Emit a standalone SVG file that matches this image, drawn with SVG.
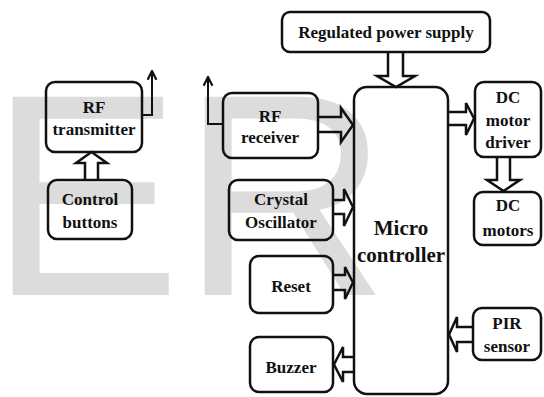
<svg xmlns="http://www.w3.org/2000/svg" width="544" height="397" viewBox="0 0 544 397">
<defs>
<style>
.bx{fill:none;stroke:#111;stroke-width:2.5}
.ar{fill:none;stroke:#111;stroke-width:2.5;stroke-linejoin:miter}
.ant{fill:none;stroke:#111;stroke-width:2}
.t{font-family:'Liberation Serif','DejaVu Serif',serif;font-weight:700;font-size:17px;fill:#111;text-anchor:middle}
.big{font-size:21px}
.wm{font-family:'Liberation Sans',Arial,sans-serif;font-size:288px;fill:#dcdcdc}
</style>
<marker id="ah" viewBox="0 0 10 10" refX="9" refY="5" markerUnits="userSpaceOnUse" markerWidth="11" markerHeight="11" orient="auto">
<path d="M1,1 L9,5 L1,9" fill="none" stroke="#111" stroke-width="2"/>
</marker>
</defs>
<rect width="544" height="397" fill="#fff"/>
<text class="wm" x="-11" y="295">ER</text>

<g id="rf-transmitter">
<rect class="bx" x="46" y="82" width="96" height="70" rx="9"/>
<text class="t" x="94" y="113">RF</text>
<text class="t" x="94" y="135">transmitter</text>
</g>
<g id="control-buttons">
<rect class="bx" x="48" y="180" width="84" height="59" rx="9"/>
<text class="t" x="90" y="205">Control</text>
<text class="t" x="90" y="228">buttons</text>
</g>
<g id="regulated-power-supply">
<rect class="bx" x="282" y="12" width="208" height="40" rx="8"/>
<text class="t" x="386" y="38">Regulated power supply</text>
</g>
<g id="rf-receiver">
<rect class="bx" x="223" y="93" width="95" height="65" rx="9"/>
<text class="t" x="270" y="122">RF</text>
<text class="t" x="270" y="143">receiver</text>
</g>
<g id="crystal-oscillator">
<rect class="bx" x="229" y="180" width="104" height="60" rx="9"/>
<text class="t" x="281" y="205">Crystal</text>
<text class="t" x="281" y="228">Oscillator</text>
</g>
<g id="reset">
<rect class="bx" x="250" y="256" width="83" height="57" rx="9"/>
<text class="t" x="291" y="292">Reset</text>
</g>
<g id="buzzer">
<rect class="bx" x="250" y="337" width="83" height="55" rx="9"/>
<text class="t" x="291" y="373">Buzzer</text>
</g>
<g id="microcontroller">
<rect class="bx" x="354" y="87" width="94" height="307" rx="13"/>
<text class="t big" x="401" y="235">Micro</text>
<text class="t big" x="401" y="262">controller</text>
</g>
<g id="dc-motor-driver">
<rect class="bx" x="475" y="82" width="66" height="75" rx="9"/>
<text class="t" x="508" y="103">DC</text>
<text class="t" x="508" y="126">motor</text>
<text class="t" x="508" y="148">driver</text>
</g>
<g id="dc-motors">
<rect class="bx" x="474" y="192" width="67" height="53" rx="9"/>
<text class="t" x="508" y="211">DC</text>
<text class="t" x="508" y="236">motors</text>
</g>
<g id="pir-sensor">
<rect class="bx" x="473" y="308" width="68" height="52" rx="9"/>
<text class="t" x="507" y="329">PIR</text>
<text class="t" x="507" y="352">sensor</text>
</g>

<g id="connectors">
<polyline class="ant" points="142,115 152,115 152,71" marker-end="url(#ah)"/>
<polyline class="ant" points="223,124 208,124 208,77" marker-end="url(#ah)"/>
<path class="ar" d="M85,180 L85,163 L76,163 L91.5,152 L107,163 L98,163 L98,180"/>
<path class="ar" d="M388,52 L388,76 L377,76 L396,87 L415,76 L403,76 L403,52"/>
<path class="ar" d="M318,117 L341,117 L341,108 L353,125 L341,142 L341,132 L318,132"/>
<path class="ar" d="M333,200 L344,200 L344,189 L353,207 L344,226 L344,214 L333,214"/>
<path class="ar" d="M333,275 L345,275 L345,267 L353,282.5 L345,299 L345,290 L333,290"/>
<path class="ar" d="M354,357 L343,357 L343,347 L334,364.5 L343,382 L343,372 L354,372"/>
<path class="ar" d="M448,112 L466,112 L466,103 L474,118.5 L466,135 L466,125 L448,125"/>
<path class="ar" d="M497,157 L497,180 L487,180 L503.5,191 L520,180 L510,180 L510,157"/>
<path class="ar" d="M473,327 L457,327 L457,317 L449,334.5 L457,352 L457,342 L473,342"/>
</g>
</svg>
